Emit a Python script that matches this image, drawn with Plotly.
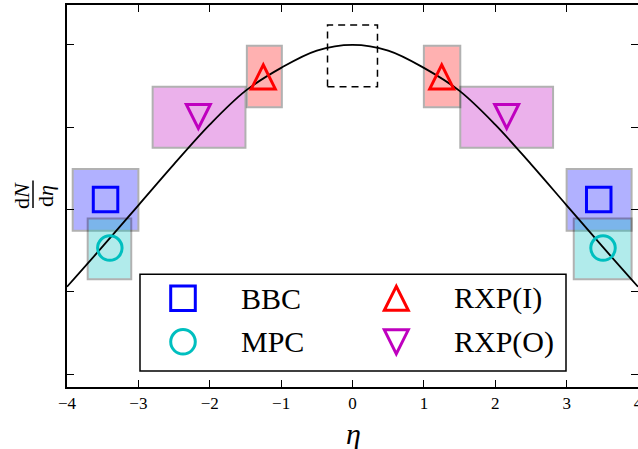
import plotly.graph_objects as go

# ---------------- data ----------------
curve_eta = [-4.0, -3.5, -3.0, -2.5, -2.0, -1.5, -1.0, -0.5, 0.0,
             0.5, 1.0, 1.5, 2.0, 2.5, 3.0, 3.5, 4.0]
curve_dndeta = [1.06, 1.55, 2.05, 2.55, 3.03, 3.44, 3.72, 3.93, 4.00,
                3.93, 3.72, 3.44, 3.03, 2.55, 2.05, 1.55, 1.06]

bbc_eta_lo = [-3.92, 3.00]
bbc_eta_hi = [-3.00, 3.91]
bbc_y_lo = [1.74, 1.74]
bbc_y_hi = [2.49, 2.49]
bbc_eta = [-3.46, 3.45]
bbc_y = [2.12, 2.12]

mpc_eta_lo = [-3.71, 3.10]
mpc_eta_hi = [-3.10, 3.91]
mpc_y_lo = [1.15, 1.15]
mpc_y_hi = [1.89, 1.89]
mpc_eta = [-3.40, 3.51]
mpc_y = [1.53, 1.53]

rxpi_eta_lo = [-1.48, 1.00]
rxpi_eta_hi = [-0.99, 1.51]
rxpi_y_lo = [3.24, 3.24]
rxpi_y_hi = [3.99, 3.99]
rxpi_eta = [-1.25, 1.25]
rxpi_y = [3.61, 3.61]

rxpo_eta_lo = [-2.80, 1.51]
rxpo_eta_hi = [-1.50, 2.81]
rxpo_y_lo = [2.75, 2.75]
rxpo_y_hi = [3.49, 3.49]
rxpo_eta = [-2.16, 2.16]
rxpo_y = [3.13, 3.13]

central_eta = [-0.35, 0.35]
central_y = [3.49, 4.24]

x_ticks = [-4, -3, -2, -1, 0, 1, 2, 3, 4]
y_ticks = [0, 1, 2, 3, 4]

# ---------------- layout geometry ----------------
W, H = 638, 449
ML, MR, MT, MB = 67, 0, 5, 62
PW, PH = W - ML - MR, H - MT - MB


def pp(px, py):
    """pixel -> paper coordinates"""
    return (px - ML) / PW, (H - MB - py) / PH


FONT = "Liberation Serif"
BLUE, CYAN, RED, MAG = "#0000ff", "#00bfbf", "#ff0000", "#bf00bf"
TRI_UP = "M0,12 L-12,-12 L12,-12 Z"
TRI_DN = "M0,-12 L-12,12 L12,12 Z"

fig = go.Figure()
shapes = []
annotations = []


def add_boxes(lo, hi, ylo, yhi, color):
    for a, b, c, d in zip(lo, hi, ylo, yhi):
        shapes.append(dict(type="rect", xref="x", yref="y", x0=a, x1=b, y0=c, y1=d,
                           fillcolor=color, line=dict(color="black", width=2),
                           opacity=0.3, layer="below"))


add_boxes(bbc_eta_lo, bbc_eta_hi, bbc_y_lo, bbc_y_hi, BLUE)
add_boxes(mpc_eta_lo, mpc_eta_hi, mpc_y_lo, mpc_y_hi, CYAN)
add_boxes(rxpo_eta_lo, rxpo_eta_hi, rxpo_y_lo, rxpo_y_hi, MAG)
add_boxes(rxpi_eta_lo, rxpi_eta_hi, rxpi_y_lo, rxpi_y_hi, RED)

shapes.append(dict(type="rect", xref="x", yref="y",
                   x0=central_eta[0], x1=central_eta[1],
                   y0=central_y[0], y1=central_y[1],
                   line=dict(color="black", width=1.5, dash="7px,5px"),
                   fillcolor="rgba(0,0,0,0)", layer="above"))

# curve
fig.add_trace(go.Scatter(x=curve_eta, y=curve_dndeta, mode="lines",
                         line=dict(color="black", width=1.8, shape="spline"),
                         showlegend=False, hoverinfo="skip"))

# markers
fig.add_trace(go.Scatter(x=bbc_eta, y=bbc_y, mode="markers", name="BBC",
                         marker=dict(symbol="square-open", size=24.5, color=BLUE,
                                     line=dict(width=3, color=BLUE)),
                         cliponaxis=False, showlegend=False))
fig.add_trace(go.Scatter(x=mpc_eta, y=mpc_y, mode="markers", name="MPC",
                         marker=dict(symbol="circle-open", size=24.5, color=CYAN,
                                     line=dict(width=3, color=CYAN)),
                         cliponaxis=False, showlegend=False))


def add_tri(xs, ys, path, color, xref="x", yref="y"):
    for a, b in zip(xs, ys):
        shapes.append(dict(type="path", xref=xref, yref=yref,
                           xsizemode="pixel", ysizemode="pixel",
                           xanchor=a, yanchor=b, path=path,
                           line=dict(color=color, width=3),
                           fillcolor="rgba(0,0,0,0)", layer="above"))


add_tri(rxpi_eta, rxpi_y, TRI_UP, RED)
add_tri(rxpo_eta, rxpo_y, TRI_DN, MAG)

# ---------------- legend (drawn manually) ----------------
lx0, ly0 = pp(140, 371)
lx1, ly1 = pp(566, 274.3)
shapes.append(dict(type="rect", xref="paper", yref="paper", x0=lx0, x1=lx1, y0=ly0, y1=ly1,
                   fillcolor="white", line=dict(color="black", width=1.5), layer="above"))

col1_sym, col2_sym = pp(183, 0)[0], pp(396.3, 0)[0]
col1_txt, col2_txt = pp(239, 0)[0], pp(451.7, 0)[0]
row1, row2 = pp(0, 298.3)[1], pp(0, 341.8)[1]

shapes.append(dict(type="rect", xref="paper", yref="paper", xsizemode="pixel", ysizemode="pixel",
                   xanchor=col1_sym, yanchor=row1, x0=-12.3, x1=12.3, y0=-12.3, y1=12.3,
                   line=dict(color=BLUE, width=3), fillcolor="rgba(0,0,0,0)", layer="above"))
shapes.append(dict(type="circle", xref="paper", yref="paper", xsizemode="pixel", ysizemode="pixel",
                   xanchor=col1_sym, yanchor=row2, x0=-12.3, x1=12.3, y0=-12.3, y1=12.3,
                   line=dict(color=CYAN, width=3), fillcolor="rgba(0,0,0,0)", layer="above"))
add_tri([col2_sym], [row1], TRI_UP, RED, "paper", "paper")
add_tri([col2_sym], [row2], TRI_DN, MAG, "paper", "paper")

for txt, x, y in [("BBC", col1_txt, row1), ("MPC", col1_txt, row2),
                  ("RXP(I)", col2_txt, row1), ("RXP(O)", col2_txt, row2)]:
    annotations.append(dict(text=txt, x=x, y=y, xref="paper", yref="paper",
                            xanchor="left", yanchor="middle", showarrow=False,
                            font=dict(family=FONT, size=30, color="black")))

# ---------------- axis titles ----------------
tx, ty = pp(353, 433)
annotations.append(dict(text="<i>η</i>", x=tx, y=ty, xref="paper", yref="paper",
                        xanchor="center", yanchor="middle", showarrow=False,
                        font=dict(family=FONT, size=30, color="black")))
nx, ny = pp(21, 196)
annotations.append(dict(text="d<i>N</i>", x=nx, y=ny, xref="paper", yref="paper",
                        xanchor="center", yanchor="middle", showarrow=False, textangle=-90,
                        font=dict(family=FONT, size=22, color="black")))
dx, dy = pp(45, 196)
annotations.append(dict(text="d<i>η</i>", x=dx, y=dy, xref="paper", yref="paper",
                        xanchor="center", yanchor="middle", showarrow=False, textangle=-90,
                        font=dict(family=FONT, size=22, color="black")))
bx, by0 = pp(33, 208)
_, by1 = pp(33, 180.5)
shapes.append(dict(type="line", xref="paper", yref="paper", x0=bx, x1=bx, y0=by0, y1=by1,
                   line=dict(color="black", width=1.5), layer="above"))

axis_common = dict(showline=True, linecolor="black", linewidth=1.6, mirror="ticks",
                   ticks="inside", ticklen=7, tickwidth=1, tickcolor="black",
                   showgrid=False, zeroline=False, automargin=False)

fig.update_layout(
    width=W, height=H,
    margin=dict(l=ML, r=MR, t=MT, b=MB, pad=0, autoexpand=False),
    paper_bgcolor="white", plot_bgcolor="white",
    font=dict(family=FONT, color="black"),
    showlegend=False,
    shapes=shapes, annotations=annotations,
    xaxis=dict(range=[-4, 4], tickvals=x_ticks,
               tickfont=dict(family=FONT, size=17, color="black"),
               ticklabeloverflow="allow", **axis_common),
    yaxis=dict(range=[-0.158, 4.484], tickvals=y_ticks, showticklabels=False,
               **axis_common),
)

fig.write_html("out.html")
